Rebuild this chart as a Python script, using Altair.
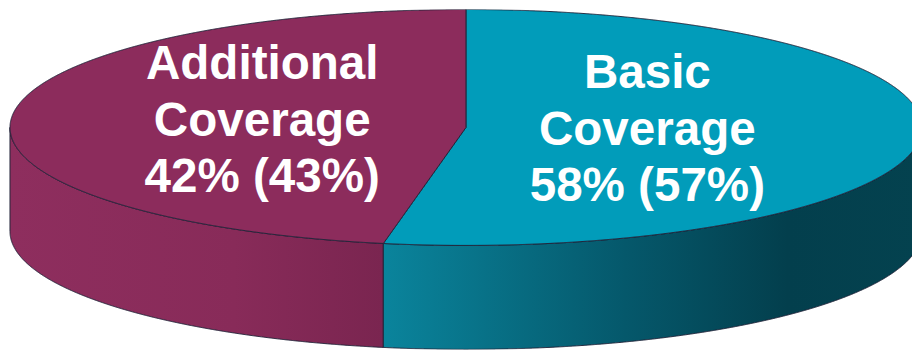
import numpy as np
import pandas as pd
import altair as alt

# ---------------- data ----------------
categories = ["Basic Coverage", "Additional Coverage"]
label_lines = [["Basic", "Coverage"], ["Additional", "Coverage"]]
current_pct = [58, 42]
prior_pct = [57, 43]
# slice sizes as they are drawn in the 3-D picture (percent of the disc)
drawn_pct = [52.9, 47.1]

# ---------------- style ----------------
top_colors = ["#019CBA", "#8C2C5C"]
side_stops = [
    [("#0A849C", 0.0), ("#05586B", 0.45), ("#033F4D", 0.75), ("#04424F", 1.0)],
    [("#8E2E5E", 0.0), ("#882B59", 0.6), ("#7A2550", 1.0)],
]
EDGE = "#22243a"
FONT = "Liberation Sans"

# ---------------- geometry of the disc ----------------
K = 0.2587       # vertical squash of the disc
D = 0.228        # thickness of the disc
W, H = 912, 343
X_DOMAIN = [-1.00435, 0.97826]
Y_DOMAIN = [-0.48696, 0.25870]

T = np.deg2rad(360.0 * drawn_pct[0] / 100.0)   # end angle of first slice (clockwise from top)
sT, cT = np.sin(T), np.cos(T)
slope = K * cT / sT
eps = 1e-6

def upper(u):
    return K * np.sqrt(np.clip(1 - u ** 2, 0, None))

def lower(u):
    return -upper(u)

u_all = -np.cos(np.linspace(0, np.pi, 1441))

# top of first slice (Basic)
ub = np.unique(np.concatenate([[sT, -eps, eps], u_all[(u_all > sT) & (u_all < 1.0000001)]]))
basic_top = pd.DataFrame({
    "u": ub,
    "v": lower(ub),
    "v2": np.where(ub < 0, slope * ub, upper(ub)),
})
# top of second slice (Additional)
ua = np.unique(np.concatenate([[sT, -eps], u_all[u_all < -eps]]))
add_top = pd.DataFrame({
    "u": ua,
    "v": np.where(ua <= sT, lower(ua), slope * ua),
    "v2": upper(ua),
})
# visible side walls
us_b = np.unique(np.concatenate([[sT], u_all[u_all > sT]]))
basic_side = pd.DataFrame({"u": us_b, "v": lower(us_b) - D, "v2": lower(us_b)})
us_a = np.unique(np.concatenate([[sT], u_all[u_all < sT]]))
add_side = pd.DataFrame({"u": us_a, "v": lower(us_a) - D, "v2": lower(us_a)})

# label anchors: centroid of each elliptical sector
spans = [(0.0, T), (T, 2 * np.pi)]
rows = []
for i, (a0, a1) in enumerate(spans):
    half = (a1 - a0) / 2
    mid = (a0 + a1) / 2
    dist = 2 * np.sin(half) / (3 * half)
    rows.append({
        "u": dist * np.sin(mid),
        "v": K * dist * np.cos(mid),
        "text": label_lines[i] + [f"{current_pct[i]}% ({prior_pct[i]}%)"],
        "category": categories[i],
    })
labels = pd.DataFrame(rows)

xs = alt.Scale(domain=X_DOMAIN, nice=False, zero=False)
ys = alt.Scale(domain=Y_DOMAIN, nice=False, zero=False)


def grad(stops):
    return alt.Gradient(
        gradient="linear",
        stops=[alt.GradientStop(color=c, offset=o) for c, o in stops],
        x1=0, x2=1, y1=0, y2=0,
    )


def area(df, fill):
    return alt.Chart(df).mark_area(
        fill=fill, stroke=EDGE, strokeWidth=1, clip=True, interpolate="linear"
    ).encode(
        x=alt.X("u:Q", scale=xs, axis=None),
        y=alt.Y("v:Q", scale=ys, axis=None),
        y2="v2:Q",
    )


layers = [
    area(add_side, grad(side_stops[1])),
    area(basic_side, grad(side_stops[0])),
    area(basic_top, top_colors[0]),
    area(add_top, top_colors[1]),
    alt.Chart(labels).mark_text(
        font=FONT, fontWeight="bold", fontSize=48, lineHeight=57,
        color="white", align="center", baseline="middle", dy=-58,
    ).encode(
        x=alt.X("u:Q", scale=xs, axis=None),
        y=alt.Y("v:Q", scale=ys, axis=None),
        text="text",
    ),
]

chart = alt.layer(*layers).properties(
    width=W, height=H, padding=0, autosize=alt.AutoSizeParams(type="none"),
    background="white",
).configure_view(stroke=None)

chart.save("out.html", embed_options={"renderer": "svg", "actions": False})
